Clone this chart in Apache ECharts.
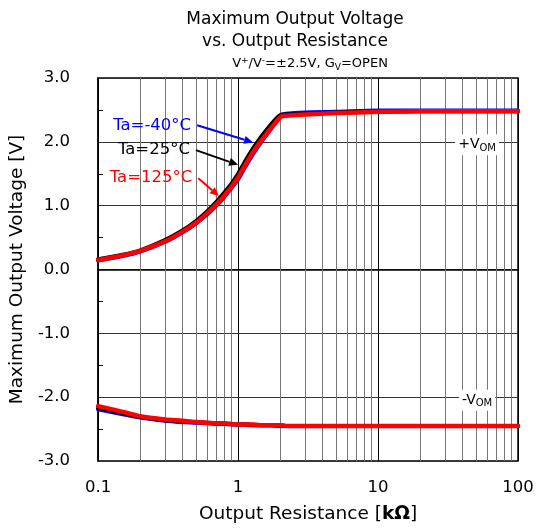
<!DOCTYPE html>
<html>
<head>
<meta charset="utf-8">
<script src="https://cdn.jsdelivr.net/npm/echarts@6/dist/echarts.min.js"></script>
<style>
  html, body { margin: 0; padding: 0; background: #fff; }
  #chart { width: 542px; height: 529px; }
</style>
</head>
<body>
<div id="chart"></div>
<script>
// Output resistance sweep [kΩ]
const resistance = [0.1, 0.15, 0.2, 0.3, 0.4, 0.5, 0.6, 0.7, 0.8, 0.9, 1.0, 1.1, 1.2, 1.3, 1.5, 1.7, 1.9, 2.05, 2.2, 3, 5, 10, 20, 50, 100];

// +VOM [V] per ambient temperature
const vomPosM40 = [0.14, 0.21, 0.28, 0.43, 0.58, 0.72, 0.86, 1.00, 1.14, 1.28, 1.41, 1.57, 1.71, 1.83, 2.03, 2.19, 2.33, 2.42, 2.44, 2.46, 2.47, 2.49, 2.49, 2.49, 2.49];
const vomPos25  = [0.16, 0.23, 0.30, 0.46, 0.61, 0.76, 0.91, 1.06, 1.21, 1.35, 1.50, 1.66, 1.80, 1.92, 2.11, 2.26, 2.38, 2.43, 2.43, 2.44, 2.46, 2.47, 2.48, 2.48, 2.48];
const vomPos125 = [0.15, 0.22, 0.29, 0.44, 0.59, 0.73, 0.88, 1.02, 1.16, 1.30, 1.44, 1.60, 1.74, 1.86, 2.05, 2.20, 2.33, 2.40, 2.41, 2.43, 2.45, 2.47, 2.48, 2.48, 2.48];

// -VOM [V] per ambient temperature
const vomNegM40 = [-2.19, -2.27, -2.32, -2.37, -2.39, -2.40, -2.41, -2.42, -2.42, -2.43, -2.43, -2.43, -2.44, -2.44, -2.44, -2.44, -2.45, -2.45, -2.45, -2.45, -2.45, -2.45, -2.45, -2.45, -2.45];
const vomNeg25  = [-2.17, -2.25, -2.31, -2.36, -2.38, -2.39, -2.40, -2.41, -2.42, -2.42, -2.43, -2.43, -2.43, -2.44, -2.44, -2.44, -2.44, -2.45, -2.45, -2.45, -2.45, -2.45, -2.45, -2.45, -2.45];
const vomNeg125 = [-2.14, -2.23, -2.30, -2.35, -2.37, -2.39, -2.40, -2.41, -2.41, -2.42, -2.43, -2.43, -2.43, -2.43, -2.44, -2.44, -2.44, -2.44, -2.45, -2.45, -2.45, -2.45, -2.45, -2.45, -2.45];

// Log-decade minor gridline positions [kΩ]
const minorGridR = [0.2, 0.3, 0.4, 0.5, 0.6, 0.7, 0.8, 0.9, 2, 3, 4, 5, 6, 7, 8, 9, 20, 30, 40, 50, 60, 70, 80, 90];

// Temperature callouts: label, colour, arrow tail and head in [kΩ, V]
const callouts = [
  { text: 'Ta=-40\u00B0C', color: '#0000ff', from: [0.51, 2.26], to: [1.28, 1.99] },
  { text: 'Ta=25\u00B0C',  color: '#000000', from: [0.50, 1.87], to: [1.00, 1.64] },
  { text: 'Ta=125\u00B0C', color: '#ff0000', from: [0.52, 1.43], to: [0.73, 1.15] }
];

// Rail labels at [kΩ, V]
const railLabels = [
  { sign: '+', at: [51, 2.0] },
  { sign: '-', at: [51, -2.0] }
];

const FONT = '"DejaVu Sans", Verdana, sans-serif';

function pairs(xs, ys) { return xs.map((x, i) => [x, ys[i]]); }

function curve(name, color, width, values) {
  return {
    name: name, type: 'line', data: pairs(resistance, values),
    showSymbol: false, smooth: 0.25, silent: true,
    lineStyle: { color: color, width: width, cap: 'round', join: 'round' },
    z: 5
  };
}

const chart = echarts.init(document.getElementById('chart'), null, { renderer: 'canvas' });

const option = {
  animation: false,
  backgroundColor: '#fff',
  title: [
    {
      text: 'Maximum Output Voltage\nvs. Output Resistance',
      left: 290, top: 4, textAlign: 'center',
      textStyle: { fontFamily: FONT, fontSize: 17, fontWeight: 'normal', color: '#000', lineHeight: 22 }
    },
    {
      text: 'V{sup|+}/V{sup|-}=\u00B12.5V, G{sub|V}=OPEN',
      left: 305, top: 51, textAlign: 'center',
      textStyle: {
        fontFamily: FONT, fontSize: 13, fontWeight: 'normal', color: '#000',
        rich: {
          sup: { fontFamily: FONT, fontSize: 9, color: '#000', padding: [0, 0, 6, 0] },
          sub: { fontFamily: FONT, fontSize: 9, color: '#000', padding: [7, 0, 0, 0] }
        }
      }
    }
  ],
  grid: { left: 96, right: 24, top: 78, bottom: 66, show: true, borderColor: '#000', borderWidth: 1.5, backgroundColor: 'transparent' },
  xAxis: {
    type: 'log', logBase: 10, min: 0.1, max: 100,
    name: 'Output Resistance [{b|k\u03A9}]',
    nameLocation: 'middle', nameGap: 44,
    nameTextStyle: {
      fontFamily: FONT, fontSize: 18.5, color: '#000',
      rich: { b: { fontFamily: FONT, fontSize: 18.5, fontWeight: 'bold', color: '#000' } }
    },
    axisLine: { lineStyle: { color: '#000', width: 1.5 } },
    axisTick: { show: false },
    axisLabel: {
      fontFamily: FONT, fontSize: 16.5, color: '#000', margin: 18,
      formatter: v => (v < 1 ? String(v) : String(Math.round(v)))
    },
    splitLine: { show: true, lineStyle: { color: '#000', width: 1 } }
  },
  yAxis: {
    type: 'value', min: -3, max: 3, interval: 1,
    name: 'Maximum Output Voltage [V]',
    nameLocation: 'middle', nameGap: 62,
    nameTextStyle: { fontFamily: FONT, fontSize: 18.5, color: '#000' },
    axisLine: { show: true, lineStyle: { color: '#000', width: 1.5 } },
    axisTick: { show: false, inside: true },
    minorTick: { show: true, splitNumber: 2, length: 5, lineStyle: { color: '#000', width: 1 } },
    axisLabel: { fontFamily: FONT, fontSize: 16.5, color: '#000', margin: 28, formatter: v => v.toFixed(1) },
    splitLine: { show: true, lineStyle: { color: '#333', width: 1 } }
  },
  series: [
    {
      name: 'grid-minor', type: 'line', data: [], silent: true, z: 1,
      markLine: {
        silent: true, symbol: ['none', 'none'], animation: false,
        label: { show: false },
        lineStyle: { color: '#777', width: 1, type: 'solid' },
        data: minorGridR.map(r => ({ xAxis: r }))
      }
    },
    curve('Ta=-40\u00B0C upper', '#0000ff', 4, vomPosM40),
    curve('Ta=25\u00B0C upper', '#000000', 4, vomPos25),
    curve('Ta=125\u00B0C upper', '#ff0000', 4.5, vomPos125),
    curve('Ta=-40\u00B0C lower', '#0000ff', 4, vomNegM40),
    curve('Ta=25\u00B0C lower', '#000000', 4, vomNeg25),
    curve('Ta=125\u00B0C lower', '#ff0000', 4.5, vomNeg125)
  ]
};

chart.setOption(option);

// Callouts and rail labels placed through the axis scales
function toPx(p) { return chart.convertToPixel({ xAxisIndex: 0, yAxisIndex: 0 }, p); }

const graphics = [];
callouts.forEach(c => {
  const a = toPx(c.from), b = toPx(c.to);
  const ang = Math.atan2(b[1] - a[1], b[0] - a[0]);
  const headLen = 9, headW = 4;
  const bx = b[0] - headLen * Math.cos(ang), by = b[1] - headLen * Math.sin(ang);
  graphics.push({
    type: 'text', z: 20,
    style: { x: a[0] - 6, y: a[1], text: c.text, fill: c.color, font: '16.5px ' + FONT, align: 'right', verticalAlign: 'middle' }
  });
  graphics.push({
    type: 'line', z: 20,
    shape: { x1: a[0], y1: a[1], x2: bx, y2: by },
    style: { stroke: c.color, lineWidth: 2 }
  });
  graphics.push({
    type: 'polygon', z: 20,
    shape: { points: [
      [b[0], b[1]],
      [bx - headW * Math.sin(ang), by + headW * Math.cos(ang)],
      [bx + headW * Math.sin(ang), by - headW * Math.cos(ang)]
    ] },
    style: { fill: c.color }
  });
});
railLabels.forEach(r => {
  const p = toPx(r.at);
  graphics.push({
    type: 'text', z: 20,
    style: {
      x: p[0], y: p[1] + 3, align: 'center', verticalAlign: 'middle',
      text: r.sign + 'V{s|OM}', fill: '#000', font: '14px ' + FONT,
      backgroundColor: '#fff', padding: [2, 3, 2, 3],
      rich: { s: { font: '10px ' + FONT, fill: '#000', padding: [7, 0, 0, 0] } }
    }
  });
});
chart.setOption({ graphic: graphics });
</script>
</body>
</html>
